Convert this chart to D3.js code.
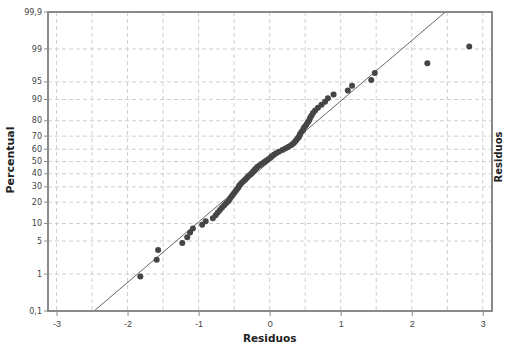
<!DOCTYPE html>
<html>
<head>
<meta charset="utf-8">
<script src="https://cdn.jsdelivr.net/npm/d3@7"></script>
<style>
  body { margin: 0; background: #fff; }
  svg { display: block; font-family: "DejaVu Sans", Verdana, sans-serif; }
</style>
</head>
<body>
<script>
// sorted residuals (n = 80)
var residuals = [
  -1.82, -1.59, -1.57, -1.23, -1.16, -1.12, -1.08, -0.95, -0.90, -0.80,
  -0.76, -0.73, -0.70, -0.67, -0.64, -0.61, -0.58, -0.56, -0.54, -0.52,
  -0.50, -0.48, -0.46, -0.44, -0.43, -0.41, -0.39, -0.36, -0.34, -0.32,
  -0.30, -0.27, -0.25, -0.23, -0.21, -0.19, -0.17, -0.14, -0.11, -0.08,
  -0.05, -0.02, 0.01, 0.03, 0.06, 0.09, 0.13, 0.18, 0.22, 0.26,
  0.30, 0.33, 0.35, 0.37, 0.39, 0.41, 0.42, 0.43, 0.45, 0.47,
  0.48, 0.50, 0.52, 0.54, 0.56, 0.57, 0.59, 0.61, 0.64, 0.68,
  0.73, 0.78, 0.82, 0.90, 1.10, 1.16, 1.43, 1.48, 2.22, 2.81
];
var xTicks = [-3, -2, -1, 0, 1, 2, 3];
var pctTicks = [0.1, 1, 5, 10, 20, 30, 40, 50, 60, 70, 80, 90, 95, 99, 99.9];
var pctLabels = ["0,1", "1", "5", "10", "20", "30", "40", "50", "60", "70", "80", "90", "95", "99", "99,9"];
// fitted normal reference line
var fitMean = 0.0, fitSd = 0.80;

var W = 509, H = 355;
var margin = {left: 48, right: 492, top: 12, bottom: 311};

// inverse normal CDF (Acklam)
function qnorm(p) {
  var a = [-39.69683028665376, 220.9460984245205, -275.9285104469687, 138.3577518672690, -30.66479806614716, 2.506628277459239],
      b = [-54.47609879822406, 161.5858368580409, -155.6989798598866, 66.80131188771972, -13.28068155288572],
      c = [-0.007784894002430293, -0.3223964580411365, -2.400758277161838, -2.549732539343734, 4.374664141464968, 2.938163982698783],
      d = [0.007784695709041462, 0.3224671290700398, 2.445134137142996, 3.754408661907416];
  var q, r;
  if (p < 0.02425) {
    q = Math.sqrt(-2 * Math.log(p));
    return (((((c[0]*q+c[1])*q+c[2])*q+c[3])*q+c[4])*q+c[5]) / ((((d[0]*q+d[1])*q+d[2])*q+d[3])*q+1);
  } else if (p > 1 - 0.02425) {
    q = Math.sqrt(-2 * Math.log(1 - p));
    return -(((((c[0]*q+c[1])*q+c[2])*q+c[3])*q+c[4])*q+c[5]) / ((((d[0]*q+d[1])*q+d[2])*q+d[3])*q+1);
  }
  q = p - 0.5; r = q * q;
  return (((((a[0]*r+a[1])*r+a[2])*r+a[3])*r+a[4])*r+a[5])*q / (((((b[0]*r+b[1])*r+b[2])*r+b[3])*r+b[4])*r+1);
}

var zMax = qnorm(0.999);
var x = d3.scaleLinear().domain([-3.12, 3.13]).range([margin.left, margin.right]);
var y = d3.scaleLinear().domain([-zMax, zMax]).range([margin.bottom, margin.top]);
function yp(pct) { return y(qnorm(pct / 100)); }

var svg = d3.select("body").append("svg").attr("width", W).attr("height", H);

svg.append("defs").append("clipPath").attr("id", "clip")
  .append("rect").attr("x", margin.left).attr("y", margin.top)
  .attr("width", margin.right - margin.left).attr("height", margin.bottom - margin.top);

// grid
var grid = svg.append("g").attr("stroke", "#cfcfcf").attr("stroke-dasharray", "4,3").attr("stroke-width", 1);
d3.range(-3, 3.01, 0.5).forEach(function(v) {
  grid.append("line").attr("x1", x(v)).attr("x2", x(v)).attr("y1", margin.top).attr("y2", margin.bottom);
});
pctTicks.slice(1, -1).forEach(function(p) {
  grid.append("line").attr("x1", margin.left).attr("x2", margin.right).attr("y1", yp(p)).attr("y2", yp(p));
});

// fitted line
svg.append("line")
  .attr("clip-path", "url(#clip)")
  .attr("x1", x(fitMean + fitSd * -zMax)).attr("y1", y(-zMax))
  .attr("x2", x(fitMean + fitSd * zMax)).attr("y2", y(zMax))
  .attr("stroke", "#555").attr("stroke-width", 0.9);

// points at median-rank plotting positions
var n = residuals.length;
svg.append("g").selectAll("circle")
  .data(residuals)
  .enter().append("circle")
    .attr("cx", function(d) { return x(d); })
    .attr("cy", function(d, i) { return y(qnorm((i + 1 - 0.3) / (n + 0.4))); })
    .attr("r", 3)
    .attr("fill", "#454545");

// frame
svg.append("rect").attr("x", margin.left).attr("y", margin.top)
  .attr("width", margin.right - margin.left).attr("height", margin.bottom - margin.top)
  .attr("fill", "none").attr("stroke", "#8a8a8a").attr("stroke-width", 2);

// x axis
var xAxis = svg.append("g").attr("transform", "translate(0," + margin.bottom + ")")
  .call(d3.axisBottom(x).tickValues(xTicks).tickSize(5).tickFormat(function(d) { return d; }));
xAxis.select(".domain").remove();
xAxis.selectAll(".tick line").attr("stroke", "#8a8a8a");
xAxis.selectAll(".tick text").attr("font-size", 9).attr("fill", "#444").attr("dy", "0.9em");

// y axis (probability scale)
var yAxis = svg.append("g").attr("transform", "translate(" + margin.left + ",0)");
yAxis.selectAll(".tick").data(pctTicks).enter().append("g")
  .attr("class", "tick")
  .attr("transform", function(d) { return "translate(0," + yp(d) + ")"; })
  .each(function(d, i) {
    var g = d3.select(this);
    g.append("line").attr("x1", -4).attr("x2", 0).attr("stroke", "#8a8a8a");
    g.append("text").attr("x", -6).attr("dy", "0.32em").attr("text-anchor", "end")
      .attr("font-size", 8).attr("fill", "#444").text(pctLabels[i]);
  });

// titles
svg.append("text").attr("x", x(0)).attr("y", 342).attr("text-anchor", "middle")
  .attr("font-size", 10.5).attr("font-weight", "bold").attr("fill", "#222").text("Residuos");
svg.append("text").attr("transform", "translate(14,160) rotate(-90)").attr("text-anchor", "middle")
  .attr("font-size", 11).attr("font-weight", "bold").attr("fill", "#222").text("Percentual");
svg.append("text").attr("transform", "translate(502,157) rotate(-90)").attr("text-anchor", "middle")
  .attr("font-size", 10).attr("font-weight", "bold").attr("fill", "#222").text("Residuos");
</script>
</body>
</html>
